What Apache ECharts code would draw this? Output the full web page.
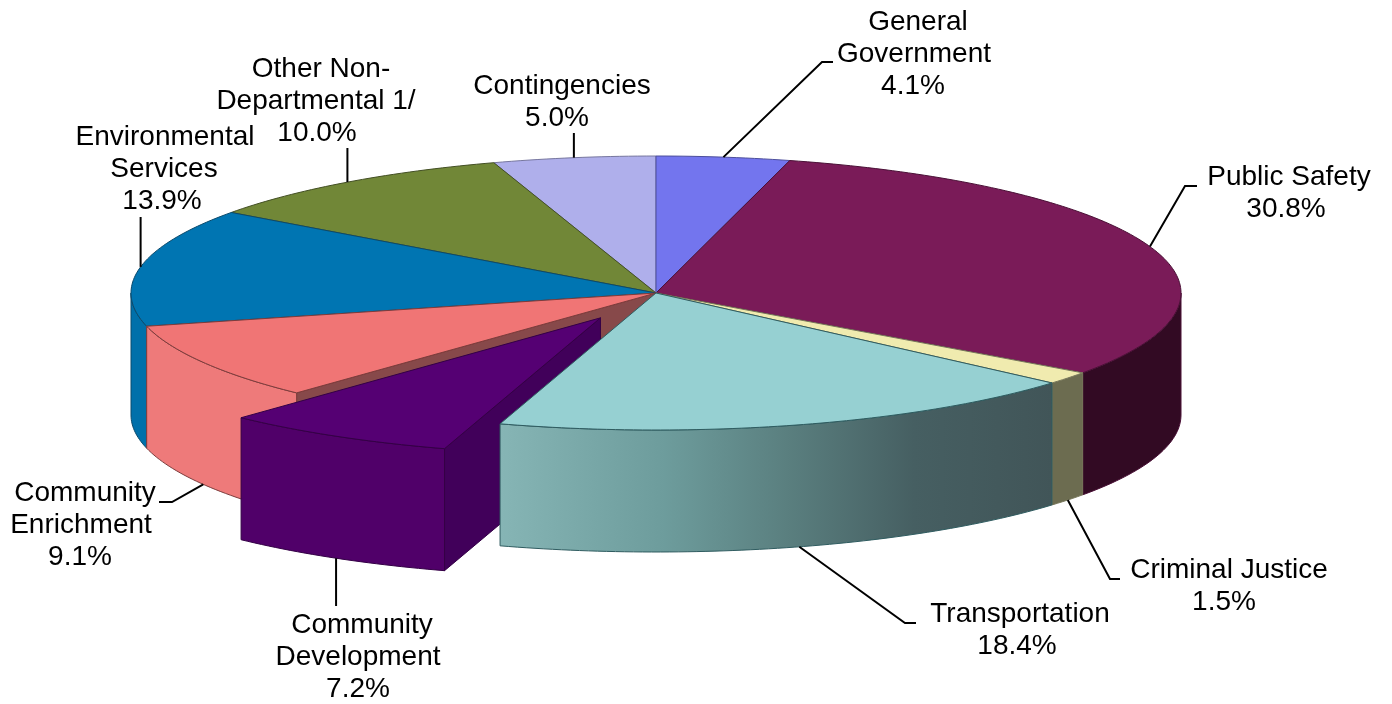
<!DOCTYPE html>
<html>
<head>
<meta charset="utf-8">
<style>html,body{margin:0;padding:0;background:#fff}#chart{width:1392px;height:704px}</style>
<script src="https://cdn.jsdelivr.net/npm/echarts@6/dist/echarts.min.js"></script>
</head>
<body>
<div id="chart"></div>
<script>
// Budget shares, clockwise from twelve o'clock
const categories = ['General Government', 'Public Safety', 'Criminal Justice', 'Transportation',
  'Community Development', 'Community Enrichment', 'Environmental Services',
  'Other Non-Departmental 1/', 'Contingencies'];
const shares = [4.1, 30.8, 1.5, 18.4, 7.2, 9.1, 13.9, 10.0, 5.0];
const labelLines = [['General', 'Government'], ['Public Safety'], ['Criminal Justice'], ['Transportation'],
  ['Community', 'Development'], ['Community', 'Enrichment'], ['Environmental', 'Services'],
  ['Other Non-', 'Departmental 1/'], ['Contingencies']];
const explodedSlice = 'Community Development';

// Disc geometry in page pixels
const CX = 656, CY = 293, RX = 525, RY = 137, DEPTH = 122, EXPLODE = 0.21;

// Slice colours: top face, outer wall, outline
const topColors = ['#7375ee', '#7a1b58', '#f0ebaf', '#96d0d2', '#550073', '#f07575', '#0075b2', '#718737', '#afafeb'];
const wallColors = ['#5a5cc0', '#320a23', '#6c6c50', null, '#500069', '#ee7a7a', '#0070aa', '#5a6c2c', '#8c8cc0'];
const edgeColors = ['#4c4e9c', '#4a1036', '#77775a', '#2f5c60', '#340046', '#7d3c3c', '#0b4a6c', '#434f24', '#77779f'];
const sideWallColor = '#41005a';
const gapWallColor = '#87494a';
const transportWallStops = [
  { offset: 0, color: '#86b5b5' }, { offset: 0.3, color: '#6d9c9c' }, { offset: 0.52, color: '#5a7f7f' },
  { offset: 0.75, color: '#465f62' }, { offset: 1, color: '#415558' }
];

// Paint order: the pulled-out wedge sits under the neighbouring wall on its right
const paintRank = [2, 7, 8, 9, 6, 5, 4, 3, 1];

// Text block centres, per-line horizontal nudges and leader elbows for each slice.
// A null x keeps the leader vertical above or below its rim anchor.
const labelCentres = [[914, 22], [1289, 177], [1229, 570], [1020, 614], [358, 625], [81, 493], [164, 137], [317, 69], [562, 86]];
const lineNudges = [[4, 0, -1], [0, -3], [0, -5], [0, -3], [4, 0, 0], [4, 0, -1], [1, 0, -2], [4, -1, 0], [0, -5]];
const leaderElbows = [
  [[822, 62], [833, 62]], [[1185, 186], [1197, 186]], [[1110, 579], [1120, 579]], [[905, 623], [916, 623]],
  [[null, 606]], [[172, 502], [159, 502]], [[null, 217]], [[null, 148]], [[null, 133]]
];
const FONT_SIZE = 28, LINE_HEIGHT = 32.3;
const DEG = Math.PI / 180;

const total = shares.reduce((a, b) => a + b, 0);
let running = 0;
const sliceAngles = shares.map(v => {
  const start = running / total * 360;
  running += v;
  return [start, running / total * 360];
});

function rim(theta, dx, dy) {
  return [CX + dx + RX * Math.sin(theta * DEG), CY + dy - RY * Math.cos(theta * DEG)];
}
function arc(a0, a1, dx, dy) {
  const pts = [], steps = Math.max(2, Math.ceil(Math.abs(a1 - a0)));
  for (let i = 0; i <= steps; i++) pts.push(rim(a0 + (a1 - a0) * i / steps, dx, dy));
  return pts;
}
function face(points, fill, edge, z2) {
  return { type: 'polygon', silent: true, z2: z2, shape: { points: points },
    style: { fill: fill, stroke: edge, lineWidth: 1, lineJoin: 'round' } };
}

function renderSlice(params) {
  const i = params.dataIndex;
  const [a0, a1] = sliceAngles[i];
  const mid = (a0 + a1) / 2;
  const z = paintRank[i] * 10;
  const pulled = categories[i] === explodedSlice;
  const dx = pulled ? RX * EXPLODE * Math.sin(mid * DEG) : 0;
  const dy = pulled ? -RY * EXPLODE * Math.cos(mid * DEG) : 0;
  const kids = [];

  // Wall of the neighbour exposed by the pulled-out wedge
  if (categories[i - 1] === explodedSlice) {
    const p = rim(a0, 0, 0);
    kids.push(face([[CX, CY], p, [p[0], p[1] + DEPTH], [CX, CY + DEPTH]], gapWallColor, edgeColors[i], z));
  }
  // Cut face on the pulled-out wedge
  if (pulled) {
    const p = rim(a0, dx, dy);
    kids.push(face([[CX + dx, CY + dy], p, [p[0], p[1] + DEPTH], [CX + dx, CY + dy + DEPTH]], sideWallColor, edgeColors[i], z));
  }
  // Outer wall: only the part of the rim that faces the viewer
  const w0 = Math.max(a0, 90), w1 = Math.min(a1, 270);
  if (w1 > w0) {
    const upper = arc(w0, w1, dx, dy);
    const lower = upper.map(p => [p[0], p[1] + DEPTH]).reverse();
    const wallFill = wallColors[i] || new echarts.graphic.LinearGradient(0, 0, 1, 0, transportWallStops);
    kids.push(face(upper.concat(lower), wallFill, edgeColors[i], z + 1));
  }
  // Top face
  kids.push(face([[CX + dx, CY + dy]].concat(arc(a0, a1, dx, dy)), topColors[i], edgeColors[i], z + 2));

  // Leader from the rim at the slice's mid angle to the label
  const a = rim(mid, dx, dy);
  const anchor = [a[0], a[1] + (mid > 90 && mid < 270 ? DEPTH : 0)];
  const elbows = leaderElbows[i].map(e => [e[0] === null ? anchor[0] : e[0], e[1]]);
  kids.push({ type: 'polyline', silent: true, z2: 200,
    shape: { points: [anchor].concat(elbows) },
    style: { fill: 'none', stroke: '#000', lineWidth: 2 } });

  // Label: wrapped name plus percentage, one text element per line
  const rows = labelLines[i].concat([shares[i].toFixed(1) + '%']);
  rows.forEach((row, r) => {
    kids.push({ type: 'text', silent: true, z2: 210,
      style: {
        x: labelCentres[i][0] + (lineNudges[i][r] || 0),
        y: labelCentres[i][1] + r * LINE_HEIGHT,
        text: row, fill: '#000', align: 'center', verticalAlign: 'middle',
        font: FONT_SIZE + 'px "Liberation Sans", Arial, sans-serif'
      } });
  });
  return { type: 'group', children: kids };
}

const chart = echarts.init(document.getElementById('chart'), null, { renderer: 'canvas' });
chart.setOption({
  backgroundColor: '#ffffff',
  animation: false,
  series: [{
    type: 'custom',
    coordinateSystem: 'none',
    silent: true,
    renderItem: renderSlice,
    data: shares.map((v, i) => ({ name: categories[i], value: v }))
  }]
});
</script>
</body>
</html>
